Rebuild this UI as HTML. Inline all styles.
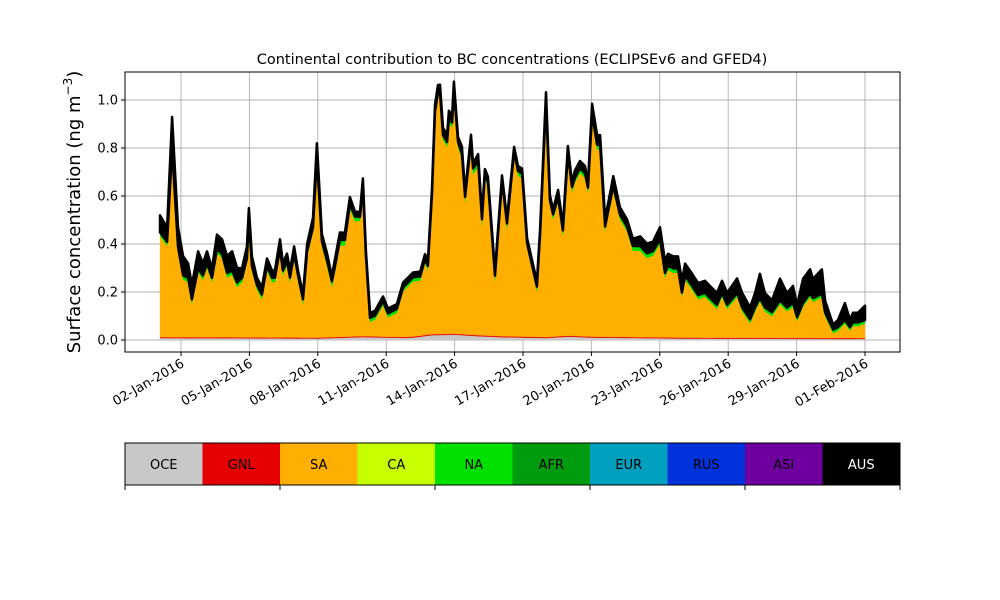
<!DOCTYPE html>
<html><head><meta charset="utf-8">
<style>
body{margin:0;background:#fff;}
svg{display:block;font-family:"DejaVu Sans","Liberation Sans",sans-serif;}
</style></head>
<body>
<svg id="chart" width="1000" height="600" viewBox="0 0 1000 600" xmlns="http://www.w3.org/2000/svg">
<rect width="1000" height="600" fill="#fff"/>
<text x="512" y="64" font-size="14.5" text-anchor="middle">Continental contribution to BC concentrations (ECLIPSEv6 and GFED4)</text>
<text transform="translate(80,212) rotate(-90)" font-size="18" text-anchor="middle">Surface concentration (ng m<tspan dy="-8" font-size="12">−3</tspan><tspan dy="8">)</tspan></text>
<g id="grid"></g>
<g id="areas"></g>
<g id="axes"></g>
<g id="legend"></g>
</svg>
<script>
const days=[1.08,1.39,1.61,1.87,2.09,2.31,2.48,2.75,2.96,3.14,3.36,3.58,3.80,4.02,4.24,4.46,4.68,4.89,4.98,5.11,5.33,5.55,5.77,5.99,6.12,6.34,6.47,6.65,6.78,6.96,7.13,7.35,7.53,7.79,7.96,8.18,8.40,8.62,8.75,8.97,9.19,9.41,9.63,9.85,9.98,10.11,10.29,10.51,10.86,11.08,11.47,11.74,12.18,12.49,12.70,12.83,13.01,13.14,13.27,13.36,13.49,13.67,13.75,13.89,13.97,14.15,14.32,14.46,14.72,14.81,15.03,15.20,15.33,15.46,15.77,16.08,16.30,16.61,16.78,16.96,17.18,17.61,17.75,18.01,18.18,18.32,18.54,18.75,18.97,19.15,19.28,19.50,19.72,19.85,20.03,20.25,20.38,20.60,20.96,21.25,21.56,21.82,22.14,22.44,22.70,23.01,23.23,23.36,23.58,23.80,23.97,24.11,24.41,24.68,24.98,25.29,25.51,25.73,25.95,26.39,26.61,26.96,27.18,27.39,27.61,27.92,28.27,28.58,28.84,29.02,29.28,29.59,29.72,30.11,30.25,30.60,30.82,31.12,31.34,31.47,31.69,32.00];
const saVals=[.42,.38,.77,.36,.24,.23,.14,.27,.24,.29,.23,.35,.33,.25,.26,.21,.23,.31,.47,.28,.20,.16,.28,.23,.23,.35,.26,.30,.23,.33,.24,.14,.34,.44,.73,.38,.30,.21,.27,.38,.38,.53,.48,.48,.61,.32,.06,.07,.13,.08,.10,.19,.23,.23,.30,.27,.57,.91,.99,.99,.81,.78,.88,.86,1.00,.78,.73,.55,.78,.67,.70,.46,.65,.62,.23,.63,.45,.75,.67,.66,.37,.19,.41,.96,.55,.49,.56,.42,.74,.60,.64,.68,.66,.60,.91,.78,.78,.44,.61,.49,.44,.36,.36,.33,.34,.39,.25,.28,.27,.27,.17,.24,.20,.16,.17,.14,.12,.17,.12,.17,.11,.06,.11,.15,.11,.09,.14,.11,.13,.07,.13,.17,.15,.17,.09,.02,.03,.06,.03,.05,.05,.06];
const ausVals=[.07,.06,.13,.08,.08,.06,.06,.07,.05,.05,.04,.06,.06,.07,.08,.06,.04,.05,.05,.04,.03,.03,.03,.03,.03,.04,.03,.03,.03,.03,.02,.02,.03,.04,.06,.03,.03,.02,.03,.03,.03,.03,.02,.02,.03,.02,.02,.02,.02,.02,.02,.02,.02,.02,.02,.02,.02,.03,.03,.03,.03,.03,.03,.03,.03,.02,.03,.02,.03,.02,.03,.02,.02,.02,.02,.02,.02,.02,.02,.02,.02,.02,.02,.04,.02,.02,.03,.02,.03,.02,.03,.03,.03,.02,.04,.04,.04,.03,.04,.03,.03,.03,.04,.04,.04,.05,.05,.05,.05,.05,.05,.05,.05,.05,.05,.05,.05,.05,.05,.06,.06,.05,.06,.10,.06,.05,.09,.06,.07,.05,.10,.10,.08,.10,.05,.02,.03,.07,.03,.04,.04,.06];
const oceDays=[1,8,10,12,13,14,15,16,17,18,19,20,24,32];
const oceVals=[.008,.006,.012,.008,.02,.022,.016,.012,.01,.008,.014,.01,.006,.004];
const gnlDays=[1,32];
const gnlVals=[.004,.004];
const naDays=[1,8,9,10,13,15,16,20,22,25,27,32];
const naVals=[.012,.015,.02,.012,.012,.02,.015,.015,.015,.012,.012,.01];
const afrDays=[1,32];
const afrVals=[.005,.005];
const yTicks=[0,0.2,0.4,0.6,0.8,1.0];
const yTickLabels=["0.0","0.2","0.4","0.6","0.8","1.0"];
const xTicks=[2,5,8,11,14,17,20,23,26,29,32];
const xTickLabels=["02-Jan-2016","05-Jan-2016","08-Jan-2016","11-Jan-2016","14-Jan-2016","17-Jan-2016","20-Jan-2016","23-Jan-2016","26-Jan-2016","29-Jan-2016","01-Feb-2016"];
const regions=["OCE","GNL","SA","CA","NA","AFR","EUR","RUS","ASI","AUS"];
const regionColors=["#c8c8c8","#e60000","#ffaf00","#c8ff00","#00e100","#009b0f","#00a0be","#0032dc","#6e00a0","#000000"];

const NS="http://www.w3.org/2000/svg";
const L=125,R=900,T=72,B=352;
function xs(d){return 181+(d-2)*22.8;}
function ys(v){return 340-v*240;}
function mk(tag,attrs,parent){const e=document.createElementNS(NS,tag);for(const k in attrs)e.setAttribute(k,attrs[k]);parent.appendChild(e);return e;}
function interp(dx,vx,d){if(d<=dx[0])return vx[0];for(let i=1;i<dx.length;i++){if(d<=dx[i]){const t=(d-dx[i-1])/(dx[i]-dx[i-1]);return vx[i-1]+t*(vx[i]-vx[i-1]);}}return vx[vx.length-1];}

const grid=document.getElementById('grid');
yTicks.forEach((v,i)=>{const l=mk('line',{x1:L,x2:R,y1:ys(v),y2:ys(v),stroke:'#b0b0b0','stroke-width':0.9},grid);

});
xTicks.forEach(d=>{const l=mk('line',{x1:xs(d),x2:xs(d),y1:T,y2:B,stroke:'#b0b0b0','stroke-width':0.9},grid);

});

const n=days.length;
const layers=[
 {name:'oce',c:regionColors[0],v:days.map(d=>interp(oceDays,oceVals,d))},
 {name:'gnl',c:regionColors[1],v:days.map(d=>interp(gnlDays,gnlVals,d))},
 {name:'sa',c:regionColors[2],v:saVals},
 {name:'na',c:regionColors[4],v:days.map(d=>interp(naDays,naVals,d))},
 {name:'afr',c:regionColors[5],v:days.map(d=>interp(afrDays,afrVals,d))},
 {name:'aus',c:regionColors[9],v:ausVals}
];
const areas=document.getElementById('areas');
let base=new Array(n).fill(0);
layers.forEach(ly=>{
 const top=base.map((b,i)=>b+ly.v[i]);
 let d='M'+xs(days[0])+','+ys(top[0]);
 for(let i=1;i<n;i++)d+='L'+xs(days[i]).toFixed(1)+','+ys(top[i]).toFixed(1);
 for(let i=n-1;i>=0;i--)d+='L'+xs(days[i]).toFixed(1)+','+ys(base[i]).toFixed(1);
 d+='Z';
 const p=mk('path',{d:d,fill:ly.c,stroke:ly.c,'stroke-width':ly.name==='aus'?2.5:0.3,'stroke-linejoin':'round'},areas);
 
 
 base=top;
});

const axes=document.getElementById('axes');
const frame=mk('rect',{x:L,y:T,width:R-L,height:B-T,fill:'none',stroke:'#000','stroke-width':1},axes);


yTicks.forEach((v,i)=>{
 mk('line',{x1:L-4,x2:L,y1:ys(v),y2:ys(v),stroke:'#000'},axes);
 const t=mk('text',{x:L-7,y:ys(v)+4.5,'font-size':13,'text-anchor':'end'},axes);
 t.textContent=yTickLabels[i];
 
 
});
xTicks.forEach((d,i)=>{
 mk('line',{x1:xs(d),x2:xs(d),y1:B,y2:B+4,stroke:'#000'},axes);
 const t=mk('text',{transform:'translate('+(xs(d)+4)+','+(B+14)+') rotate(-30)','font-size':13,'text-anchor':'end'},axes);
 t.textContent=xTickLabels[i];
 
 
});

const leg=document.getElementById('legend');
const cw=(R-L)/regions.length;
regions.forEach((r,i)=>{
 const g=mk('g',{},leg);
 
 
 mk('rect',{x:L+i*cw,y:443,width:cw+0.5,height:42,fill:regionColors[i]},g);
 const t=mk('text',{x:L+i*cw+cw/2,y:469,'font-size':13,'text-anchor':'middle',fill:r==='AUS'?'#fff':'#000'},g);
 t.textContent=r;
});
const lb=mk('rect',{x:L,y:443,width:R-L,height:42,fill:'none',stroke:'#000','stroke-width':1},leg);


[0,2,4,6,8,10].forEach(k=>{mk('line',{x1:L+k*cw,x2:L+k*cw,y1:485,y2:490,stroke:'#000'},leg);});
</script>
</body></html>
